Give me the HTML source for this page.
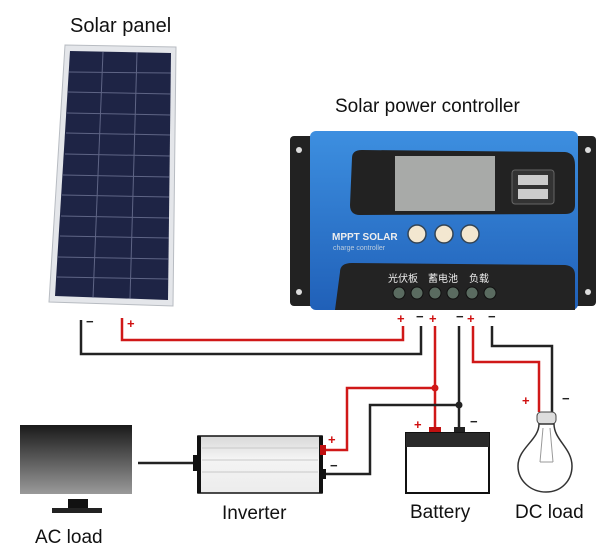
<!DOCTYPE html>
<html><head><meta charset="utf-8"><style>
html,body{margin:0;padding:0;background:#fff;}
svg{display:block;}
text{font-family:"Liberation Sans","DejaVu Sans","Noto Sans CJK SC",sans-serif;}
</style></head><body>
<svg width="602" height="552" viewBox="0 0 602 552" xmlns="http://www.w3.org/2000/svg">
<defs>
<linearGradient id="mon" x1="0" y1="0" x2="0" y2="1"><stop offset="0" stop-color="#1a1a1a"/><stop offset="1" stop-color="#9a9a9a"/></linearGradient>
<linearGradient id="inv" x1="0" y1="0" x2="0" y2="1"><stop offset="0" stop-color="#d8d8d8"/><stop offset="0.4" stop-color="#f4f4f4"/><stop offset="1" stop-color="#ececec"/></linearGradient>
<linearGradient id="blue" x1="0" y1="0" x2="0" y2="1"><stop offset="0" stop-color="#3d8fe0"/><stop offset="1" stop-color="#2060b8"/></linearGradient>
</defs>
<text x="70" y="32" font-size="20" fill="#111">Solar panel</text>
<text x="335" y="112" font-size="19" fill="#111">Solar power controller</text>
<!-- solar panel -->
<polygon points="65,45 176,47 173,306 49,302" fill="#e4e6ea" stroke="#b8bcc2" stroke-width="1"/>
<polygon points="70,51 171,53 168,300 55,296" fill="#1e2445"/>
<g stroke="#8a90b0" stroke-width="1" opacity="0.6">
<line x1="103" y1="52" x2="93" y2="298"/><line x1="137" y1="52" x2="130" y2="299"/>
<line x1="69" y1="72" x2="171" y2="73"/><line x1="68" y1="92" x2="171" y2="94"/><line x1="67" y1="113" x2="170" y2="115"/><line x1="66" y1="133" x2="170" y2="135"/><line x1="65" y1="154" x2="170" y2="156"/><line x1="63" y1="175" x2="170" y2="177"/><line x1="62" y1="195" x2="169" y2="197"/><line x1="61" y1="216" x2="169" y2="218"/><line x1="60" y1="236" x2="169" y2="238"/><line x1="58" y1="257" x2="169" y2="259"/><line x1="57" y1="277" x2="168" y2="279"/>
</g>
<!-- controller -->
<rect x="290" y="136" width="306" height="170" rx="4" fill="#222"/>
<circle cx="299" cy="150" r="3" fill="#ddd"/><circle cx="299" cy="292" r="3" fill="#ddd"/><circle cx="588" cy="150" r="3" fill="#ddd"/><circle cx="588" cy="292" r="3" fill="#ddd"/>
<rect x="310" y="131" width="268" height="179" rx="6" fill="url(#blue)"/>
<path d="M352,158 Q352,150 362,150 L565,152 Q575,153 575,165 L575,205 Q575,214 565,214 L360,215 Q350,215 350,205 Z" fill="#222"/>
<rect x="395" y="156" width="100" height="55" fill="#a8aaa8"/>
<rect x="512" y="170" width="42" height="34" rx="3" fill="#333" stroke="#666"/>
<rect x="518" y="175" width="30" height="10" fill="#ccc"/><rect x="518" y="189" width="30" height="10" fill="#ccc"/>
<text x="332" y="240" font-size="10" font-weight="bold" fill="#eee">MPPT SOLAR</text>
<text x="333" y="250" font-size="7" fill="#bcd">charge controller</text>
<circle cx="417" cy="234" r="9" fill="#f3e7d0" stroke="#345" stroke-width="1.5"/>
<circle cx="444" cy="234" r="9" fill="#f3e7d0" stroke="#345" stroke-width="1.5"/>
<circle cx="470" cy="234" r="9" fill="#f3e7d0" stroke="#345" stroke-width="1.5"/>
<path d="M340,272 Q340,263 352,263 L565,265 Q575,266 575,275 L575,310 L335,310 Z" fill="#232323"/>
<text x="388" y="282" font-size="10" fill="#eee" font-family="Noto Sans CJK SC,sans-serif">光伏板</text>
<text x="428" y="282" font-size="10" fill="#eee" font-family="Noto Sans CJK SC,sans-serif">蓄电池</text>
<text x="469" y="282" font-size="10" fill="#eee" font-family="Noto Sans CJK SC,sans-serif">负载</text>
<g fill="#5a6b60" stroke="#111"><circle cx="399" cy="293" r="6"/><circle cx="417" cy="293" r="6"/><circle cx="435" cy="293" r="6"/><circle cx="453" cy="293" r="6"/><circle cx="472" cy="293" r="6"/><circle cx="490" cy="293" r="6"/></g>
<!-- wire labels -->
<g font-size="13" font-weight="bold">
<text x="397" y="323" fill="#d01010">+</text><text x="416" y="321" fill="#222">−</text><text x="429" y="323" fill="#d01010">+</text>
<text x="456" y="321" fill="#222">−</text><text x="467" y="323" fill="#d01010">+</text><text x="488" y="321" fill="#222">−</text>
<text x="86" y="326" fill="#222">−</text><text x="127" y="328" fill="#d01010">+</text>
</g>
<!-- wires -->
<g fill="none" stroke-width="2.5">
<polyline points="81,320 81,354 421,354 421,326" stroke="#222"/>
<polyline points="122,318 122,340 403,340 403,326" stroke="#d01818"/>
<polyline points="435,326 435,428" stroke="#d01818"/>
<polyline points="435,388 347,388 347,450 324,450" stroke="#d01818"/>
<polyline points="459,326 459,428" stroke="#222"/>
<polyline points="459,405 370,405 370,474 324,474" stroke="#222"/>
<polyline points="473,326 473,362 539,362 539,412" stroke="#d01818"/>
<polyline points="492,326 492,346 552,346 552,412" stroke="#222"/>
<line x1="138" y1="463" x2="195" y2="463" stroke="#222"/>
</g>
<circle cx="435" cy="388" r="3.5" fill="#d01818"/><circle cx="459" cy="405" r="3.5" fill="#222"/>
<!-- monitor -->
<rect x="20" y="425" width="112" height="69" fill="url(#mon)"/>
<rect x="68" y="499" width="20" height="9" fill="#111"/><rect x="52" y="508" width="50" height="5" fill="#222"/>
<!-- inverter -->
<rect x="198" y="436" width="124" height="57" fill="url(#inv)" stroke="#111" stroke-width="1.5"/>
<rect x="197" y="436" width="4" height="57" fill="#111"/><rect x="319" y="436" width="4" height="57" fill="#111"/>
<rect x="193" y="455" width="5" height="16" fill="#111"/>
<rect x="320" y="445" width="6" height="10" fill="#c01010"/><rect x="320" y="469" width="6" height="10" fill="#111"/>
<g stroke="#c8c8c8"><line x1="202" y1="448" x2="318" y2="448"/><line x1="202" y1="460" x2="318" y2="460"/><line x1="202" y1="472" x2="318" y2="472"/></g>
<text x="328" y="444" font-size="13" font-weight="bold" fill="#d01010">+</text>
<text x="330" y="470" font-size="13" font-weight="bold" fill="#222">−</text>
<!-- battery -->
<rect x="429" y="427" width="12" height="6" fill="#c01010"/><rect x="454" y="427" width="11" height="6" fill="#222"/>
<rect x="406" y="433" width="83" height="60" fill="#fff" stroke="#111" stroke-width="2"/>
<rect x="406" y="433" width="83" height="14" fill="#2a2a2a"/>
<text x="414" y="429" font-size="13" font-weight="bold" fill="#d01010">+</text>
<text x="470" y="426" font-size="13" font-weight="bold" fill="#222">−</text>
<!-- bulb -->
<rect x="537" y="412" width="19" height="12" rx="4" fill="#ddd" stroke="#444"/>
<path d="M539,424 C539,440 518,448 518,466 C518,481 531,492 546,492 C561,492 572,481 572,466 C572,448 554,440 554,424 Z" fill="#fff" stroke="#333" stroke-width="1.5"/>
<path d="M543,428 L540,462 M550,428 L553,462 M540,462 L553,462" stroke="#999" fill="none"/>
<text x="522" y="405" font-size="13" font-weight="bold" fill="#d01010">+</text>
<text x="562" y="403" font-size="13" font-weight="bold" fill="#222">−</text>
<!-- labels -->
<g font-size="19" fill="#111">
<text x="222" y="519">Inverter</text>
<text x="410" y="518">Battery</text>
<text x="515" y="518">DC load</text>
<text x="35" y="543">AC load</text>
</g>
</svg>
</body></html>
